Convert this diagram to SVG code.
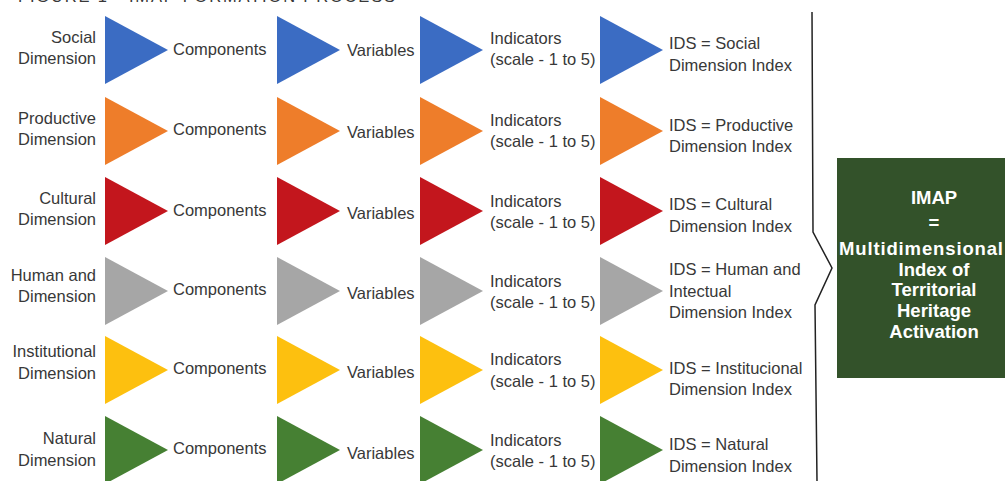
<svg xmlns="http://www.w3.org/2000/svg" width="1005" height="481" viewBox="0 0 1005 481">
<style>
.t{font-family:"Liberation Sans",Arial,sans-serif;font-size:16.5px;fill:#383838}
.e{text-anchor:end}
.b{font-family:"Liberation Sans",Arial,sans-serif;font-size:18.5px;font-weight:bold;fill:#ffffff;text-anchor:middle}
.blue{fill:#3b6cc3}.orange{fill:#ee7d2a}.red{fill:#c3161d}.gray{fill:#a6a6a6}.yellow{fill:#fdc00f}.green{fill:#468033}
</style>
<defs>
<polygon id="tri" points="0,0 63,34 0,68"/>
</defs>
<text class="t" x="18" y="2" font-size="18" textLength="377" fill="#555">FIGURE 1 - IMAP FORMATION PROCESS</text>

<g id="row-social">
<text class="t e" x="96" y="43">Social</text><text class="t e" x="96" y="64">Dimension</text>
<use href="#tri" class="blue" x="105" y="16"/><text class="t" x="173" y="55">Components</text>
<use href="#tri" class="blue" x="277" y="16"/><text class="t" x="347" y="56">Variables</text>
<use href="#tri" class="blue" x="420" y="16"/><text class="t" x="490" y="44">Indicators</text><text class="t" x="490" y="65">(scale - 1 to 5)</text>
<use href="#tri" class="blue" x="600" y="16"/><text class="t" x="669" y="49">IDS = Social</text><text class="t" x="669" y="71">Dimension Index</text>
</g>
<g id="row-productive">
<text class="t e" x="96" y="124">Productive</text><text class="t e" x="96" y="145">Dimension</text>
<use href="#tri" class="orange" x="105" y="97"/><text class="t" x="173" y="135">Components</text>
<use href="#tri" class="orange" x="277" y="97"/><text class="t" x="347" y="138">Variables</text>
<use href="#tri" class="orange" x="420" y="97"/><text class="t" x="490" y="126">Indicators</text><text class="t" x="490" y="147">(scale - 1 to 5)</text>
<use href="#tri" class="orange" x="600" y="97"/><text class="t" x="669" y="131">IDS = Productive</text><text class="t" x="669" y="152">Dimension Index</text>
</g>
<g id="row-cultural">
<text class="t e" x="96" y="204">Cultural</text><text class="t e" x="96" y="225">Dimension</text>
<use href="#tri" class="red" x="105" y="177"/><text class="t" x="173" y="216">Components</text>
<use href="#tri" class="red" x="277" y="177"/><text class="t" x="347" y="219">Variables</text>
<use href="#tri" class="red" x="420" y="177"/><text class="t" x="490" y="207">Indicators</text><text class="t" x="490" y="228">(scale - 1 to 5)</text>
<use href="#tri" class="red" x="600" y="177"/><text class="t" x="669" y="210">IDS = Cultural</text><text class="t" x="669" y="232">Dimension Index</text>
</g>
<g id="row-human">
<text class="t e" x="96" y="281">Human and</text><text class="t e" x="96" y="302">Dimension</text>
<use href="#tri" class="gray" x="105" y="257"/><text class="t" x="173" y="295">Components</text>
<use href="#tri" class="gray" x="277" y="257"/><text class="t" x="347" y="299">Variables</text>
<use href="#tri" class="gray" x="420" y="257"/><text class="t" x="490" y="287">Indicators</text><text class="t" x="490" y="308">(scale - 1 to 5)</text>
<use href="#tri" class="gray" x="600" y="257"/><text class="t" x="669" y="275">IDS = Human and</text><text class="t" x="669" y="297">Intectual</text><text class="t" x="669" y="318">Dimension Index</text>
</g>
<g id="row-institutional">
<text class="t e" x="96" y="357">Institutional</text><text class="t e" x="96" y="379">Dimension</text>
<use href="#tri" class="yellow" x="105" y="336"/><text class="t" x="173" y="374">Components</text>
<use href="#tri" class="yellow" x="277" y="336"/><text class="t" x="347" y="378">Variables</text>
<use href="#tri" class="yellow" x="420" y="336"/><text class="t" x="490" y="365">Indicators</text><text class="t" x="490" y="387">(scale - 1 to 5)</text>
<use href="#tri" class="yellow" x="600" y="336"/><text class="t" x="669" y="374">IDS = Institucional</text><text class="t" x="669" y="395">Dimension Index</text>
</g>
<g id="row-natural">
<text class="t e" x="96" y="444">Natural</text><text class="t e" x="96" y="466">Dimension</text>
<use href="#tri" class="green" x="105" y="416"/><text class="t" x="173" y="454">Components</text>
<use href="#tri" class="green" x="277" y="416"/><text class="t" x="347" y="459">Variables</text>
<use href="#tri" class="green" x="420" y="416"/><text class="t" x="490" y="446">Indicators</text><text class="t" x="490" y="467">(scale - 1 to 5)</text>
<use href="#tri" class="green" x="600" y="416"/><text class="t" x="669" y="450">IDS = Natural</text><text class="t" x="669" y="472">Dimension Index</text>
</g>

<g id="connectors">
<polyline points="812,12 813,232 832,268 815,305 817,481" fill="none" stroke="#222" stroke-width="1.5"/>
</g>

<g id="imap">
<rect x="837" y="158" width="168" height="220" fill="#33522a"/>
<text class="b" x="934" y="204">IMAP</text>
<text class="b" x="934" y="229">=</text>
<text class="b" x="921" y="255" textLength="164" lengthAdjust="spacing">Multidimensional</text>
<text class="b" x="934" y="276">Index of</text>
<text class="b" x="934" y="296">Territorial</text>
<text class="b" x="934" y="317">Heritage</text>
<text class="b" x="934" y="338">Activation</text>
</g>
</svg>
